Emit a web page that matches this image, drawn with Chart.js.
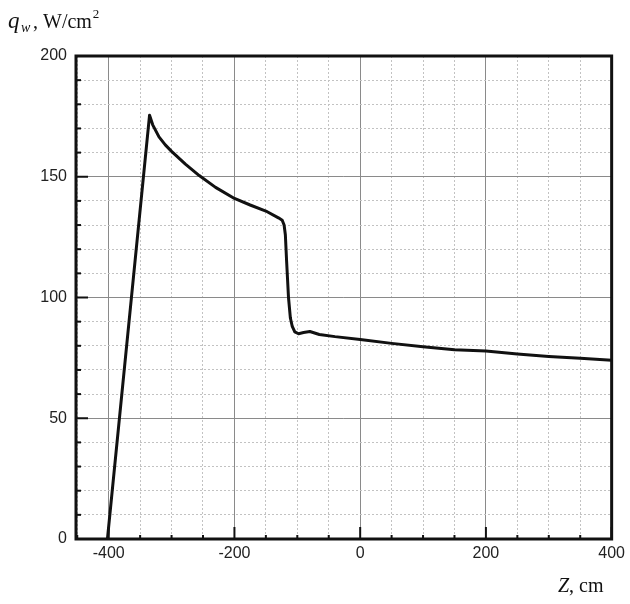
<!DOCTYPE html>
<html>
<head>
<meta charset="utf-8">
<script src="https://cdn.jsdelivr.net/npm/chart.js@4"></script>
<style>
  html, body { margin: 0; padding: 0; background: #fff; }
  #wrap { width: 630px; height: 604px; }
</style>
</head>
<body>
<div id="wrap"><canvas id="myChart" width="630" height="604"></canvas></div>
<script>
// wall heat flux along the axis
const zValues = [-402, -335, -330, -320, -310, -300, -278, -256, -230, -200, -175, -150, -130, -124, -121, -119, -117, -114, -111, -108, -104, -98, -90, -80, -65, -40, 0, 50, 100, 150, 200, 250, 300, 350, 400];
const qValues = [0, 175.5, 171.5, 166.5, 163.2, 160.5, 155.2, 150.5, 145.6, 141, 138.3, 135.8, 133, 132, 130, 126, 115, 100, 91.5, 88, 85.8, 85, 85.5, 85.9, 84.7, 83.8, 82.6, 81, 79.6, 78.4, 77.8, 76.6, 75.6, 74.8, 74];

const xTicks = [-450, -400, -350, -300, -250, -200, -150, -100, -50, 0, 50, 100, 150, 200, 250, 300, 350, 400];
const yTicks = [0, 10, 20, 30, 40, 50, 60, 70, 80, 90, 100, 110, 120, 130, 140, 150, 160, 170, 180, 190, 200];

const isMajorX = v => v % 200 === 0;
const isMajorY = v => v % 50 === 0;

const tickFont = { family: "'Liberation Sans', Arial, sans-serif", size: 16 };

// frame, inward tick marks and the axis titles
const framePlugin = {
    id: 'frame',
    afterDraw(chart) {
        const { ctx, chartArea: a, scales } = chart;
        ctx.save();
        ctx.strokeStyle = '#111';

        ctx.lineWidth = 2;
        yTicks.forEach(v => {
            const y = scales.y.getPixelForValue(v);
            const len = isMajorY(v) ? 12 : 5;
            ctx.beginPath();
            ctx.moveTo(a.left, y);
            ctx.lineTo(a.left + len, y);
            ctx.stroke();
        });
        xTicks.forEach(v => {
            const x = scales.x.getPixelForValue(v);
            const len = isMajorX(v) ? 12 : 4;
            ctx.beginPath();
            ctx.moveTo(x, a.bottom);
            ctx.lineTo(x, a.bottom - len);
            ctx.stroke();
        });

        ctx.lineWidth = 3;
        ctx.strokeRect(a.left, a.top, a.right - a.left, a.bottom - a.top);

        ctx.fillStyle = '#111';
        ctx.textBaseline = 'alphabetic';
        ctx.textAlign = 'left';
        const serif = "'Liberation Serif', 'Times New Roman', serif";
        ctx.font = 'italic 23px ' + serif;
        ctx.fillText('q', 8, 28);
        ctx.font = 'italic 14px ' + serif;
        ctx.fillText('w', 21, 32);
        ctx.font = '20px ' + serif;
        ctx.fillText(', W/cm', 33, 28);
        const w = ctx.measureText(', W/cm').width;
        ctx.font = '13px ' + serif;
        ctx.fillText('2', 33 + w + 1, 18);

        ctx.font = 'italic 20px ' + serif;
        ctx.fillText('Z', 558, 592);
        const zw = ctx.measureText('Z').width;
        ctx.font = '20px ' + serif;
        ctx.fillText(', cm', 558 + zw, 592);
        ctx.restore();
    }
};

const ctx = document.getElementById('myChart').getContext('2d');
const myChart = new Chart(ctx, {
    type: 'line',
    data: {
        datasets: [{
            data: zValues.map((z, i) => ({ x: z, y: qValues[i] })),
            borderColor: '#111',
            borderWidth: 3,
            borderJoinStyle: 'round',
            borderCapStyle: 'round',
            pointRadius: 0,
            tension: 0,
            fill: false
        }]
    },
    options: {
        responsive: false,
        animation: false,
        layout: { padding: { top: 56, right: 18, left: 0, bottom: 0 } },
        plugins: { legend: { display: false }, tooltip: { enabled: false } },
        scales: {
            x: {
                type: 'linear',
                min: -452,
                max: 400,
                afterBuildTicks: s => { s.ticks = xTicks.map(v => ({ value: v })); },
                afterFit: s => { s.height = 65; },
                ticks: {
                    autoSkip: false,
                    maxRotation: 0,
                    padding: 5,
                    color: '#222',
                    font: tickFont,
                    callback: v => isMajorX(v) ? v : ''
                },
                grid: {
                    drawTicks: false,
                    lineWidth: 1,
                    color: c => isMajorX(c.tick.value) ? '#8a8a8a' : '#c2c2c2'
                },
                border: {
                    display: false,
                    dash: c => (c.tick && !isMajorX(c.tick.value)) ? [2, 2] : []
                }
            },
            y: {
                type: 'linear',
                min: 0,
                max: 200,
                afterBuildTicks: s => { s.ticks = yTicks.map(v => ({ value: v })); },
                afterFit: s => { s.width = 76; },
                ticks: {
                    autoSkip: false,
                    padding: 9,
                    color: '#222',
                    font: tickFont,
                    callback: v => isMajorY(v) ? v : ''
                },
                grid: {
                    drawTicks: false,
                    lineWidth: 1,
                    color: c => isMajorY(c.tick.value) ? '#8a8a8a' : '#c2c2c2'
                },
                border: {
                    display: false,
                    dash: c => (c.tick && !isMajorY(c.tick.value)) ? [2, 2] : []
                }
            }
        }
    },
    plugins: [framePlugin]
});
</script>
</body>
</html>
